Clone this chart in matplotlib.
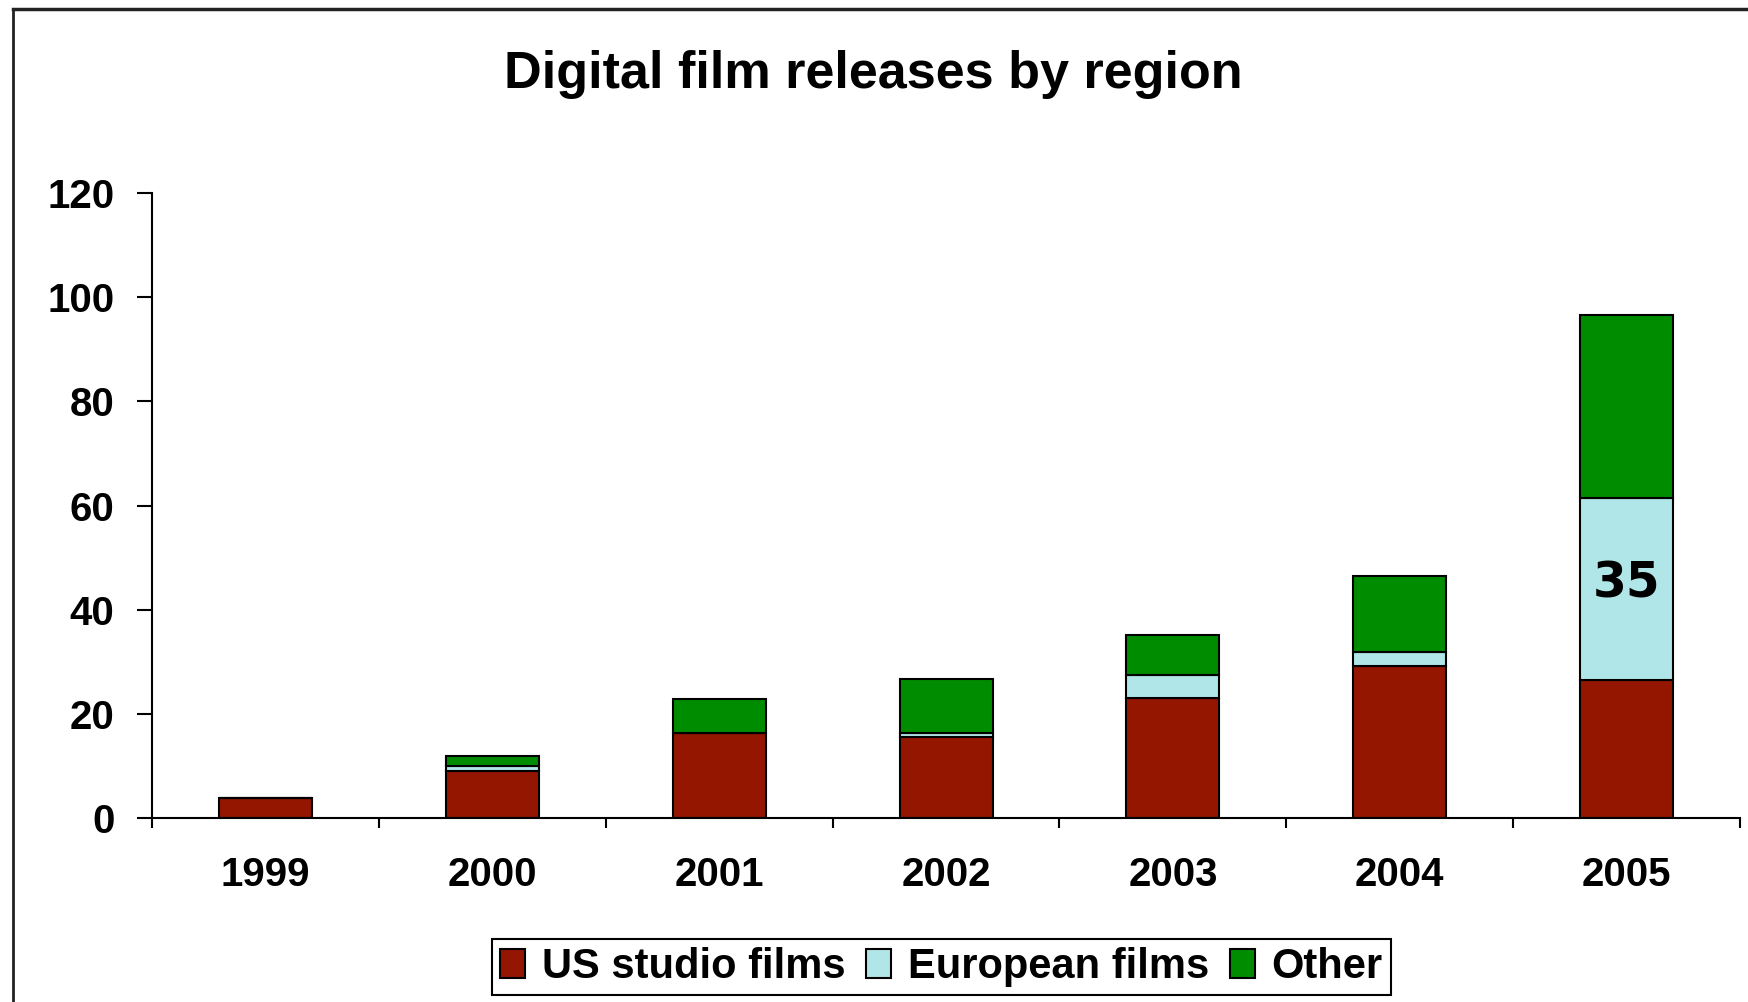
import matplotlib.pyplot as plt
import numpy as np
from matplotlib.lines import Line2D

plt.rcParams['font.family'] = ['Liberation Sans', 'DejaVu Sans']

# data
years = ['1999', '2000', '2001', '2002', '2003', '2004', '2005']
us_studio = [3.8, 9.0, 16.4, 15.5, 23.0, 29.1, 26.5]
european = [0.0, 1.0, 0.0, 0.9, 4.5, 2.7, 35.0]
other = [0.0, 2.0, 6.4, 10.2, 7.6, 14.7, 35.0]
series_names = ['US studio films', 'European films', 'Other']
colors = ['#941500', '#b0e6e8', '#008c00']
yticks = [0, 20, 40, 60, 80, 100, 120]

fig = plt.figure(figsize=(17.49, 10.02), dpi=100)
ax = fig.add_axes([0.0869, 0.1836, 0.908, 0.6238])

x = np.arange(len(years))
bottom = np.zeros(len(years))
for vals, name, col in zip([us_studio, european, other], series_names, colors):
    vals = np.array(vals)
    ax.bar(x, vals, width=0.41, bottom=bottom, color=col, edgecolor='black',
           linewidth=1.5, label=name)
    bottom += vals

# label on the European segment of the last year
ax.text(x[-1], us_studio[-1] + european[-1] / 2 + 1.0, '%d' % european[-1],
        ha='center', va='center', fontsize=35, fontweight='bold',
        family='DejaVu Sans')

ax.set_xlim(-0.5, len(years) - 0.5)
ax.set_ylim(0, 120)
ax.set_yticks(yticks)
ax.set_yticklabels([str(t) for t in yticks], fontsize=29, fontweight='bold')
ax.set_xticks(x)
ax.set_xticklabels(years, fontsize=29, fontweight='bold')
ax.set_xticks(np.arange(-0.5, len(years)), minor=True)
ax.tick_params(axis='x', which='major', length=0, pad=27)
ax.tick_params(axis='x', which='minor', length=7, width=1.5, direction='out')
ax.tick_params(axis='y', length=11, width=1.5, pad=16)

for s in ['top', 'right']:
    ax.spines[s].set_visible(False)
for s in ['left', 'bottom']:
    ax.spines[s].set_linewidth(1.5)

fig.text(0.4995, 0.926, 'Digital film releases by region', ha='center',
         va='center', fontsize=37.5, fontweight='bold')

leg = fig.legend(loc='center', bbox_to_anchor=(0.5383, 0.0349), ncol=3,
                 prop={'weight': 'bold', 'size': 30},
                 handlelength=0.6, handleheight=0.7, handletextpad=0.4,
                 columnspacing=0.5, borderpad=0.2, fancybox=False,
                 framealpha=1, edgecolor='black')
leg.get_frame().set_linewidth(1.5)

# outer frame of the chart area (left and top edges visible)
fig.add_artist(Line2D([13 / 1749, 13 / 1749], [0, 1 - 9 / 1002],
                      transform=fig.transFigure, color='#222222', lw=2))
fig.add_artist(Line2D([13 / 1749, 1], [1 - 9 / 1002, 1 - 9 / 1002],
                      transform=fig.transFigure, color='#222222', lw=2.5))

fig.savefig('out.png', dpi=100)
